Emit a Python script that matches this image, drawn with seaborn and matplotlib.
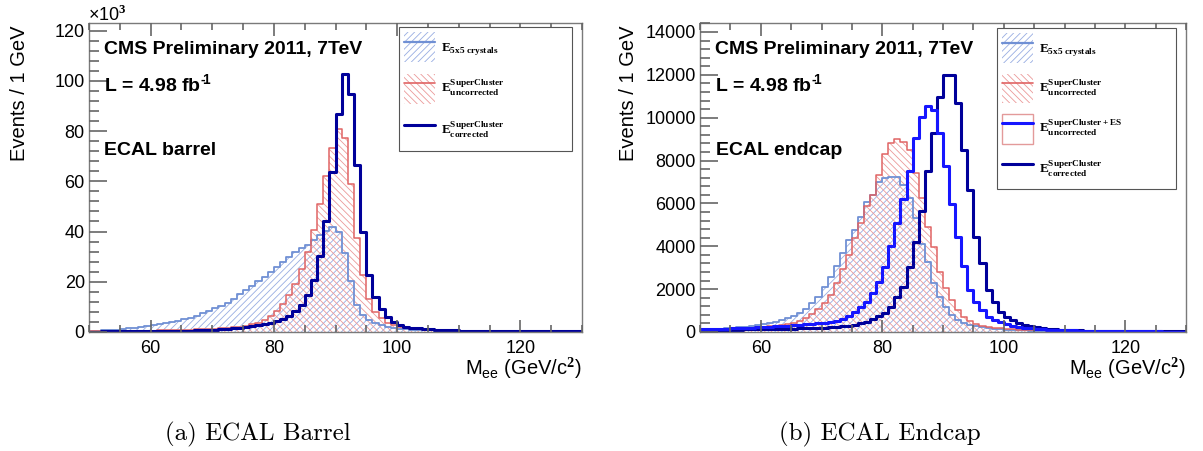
import numpy as np
import pandas as pd
import matplotlib
matplotlib.use("Agg")
import matplotlib.pyplot as plt
import seaborn as sns
from matplotlib.patches import Patch
from matplotlib.lines import Line2D
from matplotlib.ticker import MultipleLocator, ScalarFormatter
from matplotlib.legend_handler import HandlerTuple

# ---------------- data ----------------
bin_edges = list(range(50, 131))          # 1 GeV bins, 50-130 GeV

# ECAL barrel, events / 1 GeV in units of 10^3
barrel_5x5 = [0.4, 0.5, 0.7, 0.8, 0.9, 1.2, 1.5, 1.7, 2.0, 2.4,
              2.7, 3.1, 3.5, 3.9, 4.5, 5.0, 5.7, 6.5, 7.4, 8.4,
              9.4, 10.4, 11.7, 13.3, 15.2, 16.6, 18.3, 20.2, 22.0, 24.0,
              25.8, 27.8, 29.8, 31.8, 33.5, 34.7, 36.5, 38.5, 40.4, 41.7,
              39.7, 31.3, 20.4, 10.8, 6.8, 4.8, 3.5, 2.7, 2.0, 1.6,
              1.3, 1.1, 0.9, 0.8, 0.7, 0.6, 0.5, 0.45, 0.4, 0.35,
              0.32, 0.3, 0.28, 0.26, 0.24, 0.22, 0.2, 0.19, 0.18, 0.17,
              0.16, 0.15, 0.14, 0.13, 0.12, 0.11, 0.1, 0.1, 0.09, 0.09]
barrel_sc_uncorr = [0.2, 0.2, 0.25, 0.3, 0.3, 0.35, 0.4, 0.4, 0.45, 0.5,
                    0.55, 0.6, 0.65, 0.7, 0.75, 0.8, 0.9, 1.0, 1.1, 1.2,
                    1.35, 1.5, 1.7, 1.9, 2.1, 2.4, 3.05, 3.7, 4.8, 6.4,
                    8.4, 11.0, 14.7, 19.3, 25.0, 31.8, 40.5, 50.8, 61.9, 73.4,
                    80.9, 77.2, 59.0, 37.3, 22.5, 13.2, 8.1, 5.4, 3.7, 2.7,
                    2.0, 1.6, 1.3, 1.1, 0.9, 0.8, 0.7, 0.6, 0.5, 0.45,
                    0.4, 0.37, 0.34, 0.31, 0.28, 0.26, 0.24, 0.22, 0.2, 0.19,
                    0.18, 0.17, 0.16, 0.15, 0.14, 0.13, 0.12, 0.11, 0.1, 0.1]
barrel_sc_corr = [0.15, 0.18, 0.2, 0.22, 0.24, 0.26, 0.28, 0.3, 0.32, 0.35,
                  0.38, 0.4, 0.42, 0.45, 0.48, 0.5, 0.55, 0.6, 0.7, 0.8,
                  0.95, 1.1, 1.25, 1.45, 1.7, 2.0, 2.3, 2.6, 3.0, 3.6,
                  4.2, 5.3, 6.5, 8.3, 10.8, 14.7, 20.7, 30.3, 44.1, 63.7,
                  86.6, 102.8, 94.8, 66.4, 39.7, 22.5, 13.8, 9.0, 6.1, 4.1,
                  2.8, 2.1, 1.7, 1.4, 1.2, 1.0, 0.9, 0.8, 0.7, 0.6,
                  0.55, 0.5, 0.47, 0.44, 0.41, 0.38, 0.36, 0.34, 0.32, 0.3,
                  0.28, 0.27, 0.26, 0.25, 0.24, 0.23, 0.22, 0.21, 0.2, 0.2]

# ECAL endcap, events / 1 GeV
endcap_5x5 = [120, 130, 150, 160, 170, 190, 220, 250, 280, 310,
              360, 400, 480, 560, 640, 750, 900, 1060, 1340, 1650,
              2120, 2580, 3080, 3670, 4290, 4760, 5380, 6080, 6390, 7000,
              7200, 7250, 7250, 6860, 6240, 5300, 4100, 3280, 2270, 1650,
              1180, 800, 560, 420, 330, 270, 220, 180, 150, 130,
              110, 95, 85, 75, 68, 60, 55, 50, 46, 42,
              40, 38, 36, 34, 32, 30, 29, 28, 27, 26,
              25, 24, 23, 22, 21, 20, 20, 19, 18, 18]
endcap_sc_uncorr = [100, 110, 120, 130, 140, 150, 160, 180, 200, 220,
                    250, 270, 300, 330, 380, 440, 530, 670, 840, 1060,
                    1340, 1730, 2270, 2920, 3590, 4370, 5070, 5900, 6390, 7330,
                    8300, 8800, 8990, 8850, 8500, 7400, 6240, 4910, 3980, 2810,
                    2040, 1490, 1030, 720, 500, 380, 300, 240, 200, 170,
                    150, 130, 115, 100, 90, 80, 75, 70, 65, 60,
                    56, 52, 48, 45, 42, 40, 38, 36, 34, 32,
                    30, 29, 28, 27, 26, 25, 24, 23, 22, 21]
endcap_sc_es_uncorr = [120, 130, 140, 150, 160, 170, 180, 190, 200, 215,
                       230, 245, 260, 280, 300, 320, 340, 360, 385, 410,
                       420, 460, 520, 590, 750, 950, 1180, 1420, 1800, 2350,
                       3050, 4000, 5070, 6200, 7500, 9070, 10050, 10540, 10360, 9300,
                       7750, 5960, 4450, 3090, 1960, 1420, 1030, 720, 560, 480,
                       380, 300, 250, 200, 170, 150, 130, 115, 100, 90,
                       80, 72, 65, 58, 52, 47, 43, 40, 37, 35,
                       33, 31, 29, 27, 25, 24, 23, 22, 21, 20]
endcap_sc_corr = [80, 90, 95, 100, 105, 110, 115, 120, 125, 130,
                  135, 140, 145, 150, 155, 160, 165, 170, 180, 190,
                  200, 220, 240, 260, 300, 340, 400, 480, 610, 750,
                  900, 1150, 1620, 2080, 3050, 4210, 5660, 7510, 9300, 10980,
                  12000, 12000, 10670, 8490, 6630, 4450, 3200, 1960, 1420, 950,
                  720, 560, 420, 330, 270, 220, 180, 150, 130, 110,
                  95, 85, 75, 68, 62, 56, 50, 46, 43, 40,
                  38, 36, 34, 32, 30, 28, 27, 26, 25, 24]

# ---------------- style ----------------
C_5x5_LINE = '#7090d4'
C_5x5_HATCH = '#98ade2'
C_RED_LINE = '#e06464'
C_RED_HATCH = '#eb9a9a'
C_NAVY = '#00009a'
C_BRIGHT = '#1616ff'
C_FRAME = '#7a7a7a'
C_TICK = '#666666'

sns.set_theme(style="ticks")
plt.rcParams.update({
    'font.family': ['Liberation Sans', 'DejaVu Sans'],
    'mathtext.fontset': 'custom',
    'mathtext.rm': 'Liberation Serif:bold',
    'mathtext.bf': 'Liberation Serif:bold',
    'mathtext.sf': 'Liberation Sans:bold',
    'mathtext.it': 'Liberation Sans',
    'hatch.linewidth': 0.6,
    'text.color': 'black',
    'axes.labelcolor': 'black',
    'axes.edgecolor': C_FRAME,
    'axes.linewidth': 1.0,
    'axes.axisbelow': False,
    'xtick.labelcolor': 'black',
    'ytick.labelcolor': 'black',
    'xtick.color': C_TICK,
    'ytick.color': C_TICK,
    'xtick.direction': 'in',
    'ytick.direction': 'in',
    'xtick.top': True,
    'xtick.bottom': True,
    'ytick.left': True,
    'ytick.right': False,
    'xtick.labelsize': 13,
    'ytick.labelsize': 13,
})

centers = [(a + b) / 2 for a, b in zip(bin_edges[:-1], bin_edges[1:])]


def hatched(ax, values, hatch_color, hatch, line_color, lw):
    df = pd.DataFrame({"m": centers, "w": values})
    sns.histplot(data=df, x="m", weights="w", bins=bin_edges, element="step",
                 fill=True, color=hatch_color, facecolor="none",
                 edgecolor=hatch_color, hatch=hatch, linewidth=0, ax=ax)
    sns.histplot(data=df, x="m", weights="w", bins=bin_edges, element="step",
                 fill=False, color=line_color, linewidth=lw, ax=ax)


def outline(ax, values, color, lw):
    df = pd.DataFrame({"m": centers, "w": values})
    sns.histplot(data=df, x="m", weights="w", bins=bin_edges, element="step",
                 fill=False, color=color, linewidth=lw, ax=ax)


fig = plt.figure(figsize=(12.03, 4.51), dpi=100)
W, H = 1203, 451
ax1 = fig.add_axes([89 / W, 119 / H, 493 / W, 309 / H])
ax2 = fig.add_axes([700 / W, 119 / H, 486 / W, 309 / H])

HATCH_F = '/////'
HATCH_B = '\\\\\\\\\\'

# barrel
hatched(ax1, barrel_5x5, C_5x5_HATCH, HATCH_F, C_5x5_LINE, 1.3)
hatched(ax1, barrel_sc_uncorr, C_RED_HATCH, HATCH_B, C_RED_LINE, 1.1)
outline(ax1, barrel_sc_corr, C_NAVY, 2.2)

# endcap
hatched(ax2, endcap_5x5, C_5x5_HATCH, HATCH_F, C_5x5_LINE, 1.3)
hatched(ax2, endcap_sc_uncorr, C_RED_HATCH, HATCH_B, C_RED_LINE, 1.1)
outline(ax2, endcap_sc_corr, C_NAVY, 2.2)
outline(ax2, endcap_sc_es_uncorr, C_BRIGHT, 2.2)

ax1.set_ylim(0, 123)
ax2.set_ylim(0, 14420)
fmt = ScalarFormatter(useOffset=False)
fmt.set_scientific(False)
ax2.yaxis.set_major_formatter(fmt)

for ax, ymaj, ymin in ((ax1, 20, 4), (ax2, 2000, 400)):
    ax.set_xlim(50, 130)
    ax.xaxis.set_major_locator(MultipleLocator(20))
    ax.xaxis.set_minor_locator(MultipleLocator(5))
    ax.yaxis.set_major_locator(MultipleLocator(ymaj))
    ax.yaxis.set_minor_locator(MultipleLocator(ymin))
    for s in ax.spines.values():
        s.set_visible(True)
        s.set_color(C_FRAME)
        s.set_linewidth(1.0)
    ax.set_axisbelow(False)
    ax.xaxis.set_tick_params(which='major', direction='in', length=9, width=1.2,
                             color=C_TICK, bottom=True, top=True, pad=6)
    ax.xaxis.set_tick_params(which='minor', direction='in', length=5, width=1.2,
                             color=C_TICK, bottom=True, top=True)
    ax.yaxis.set_tick_params(which='major', direction='in', length=13, width=1.2,
                             color=C_TICK, left=True, right=False, pad=3)
    ax.yaxis.set_tick_params(which='minor', direction='in', length=7, width=1.2,
                             color=C_TICK, left=True, right=False)
    ax.set_ylabel('Events / 1 GeV', fontsize=14.5, ha='center')
    ax.set_xlabel(r'M$_{\mathit{ee}}$ (GeV/c$^{\mathit{2}}$)', fontsize=14.5,
                  ha='right', va='top')
    ax.xaxis.set_label_coords(1.0, -0.075)
    ax.text(0.030, 0.899, 'CMS Preliminary 2011, 7TeV', transform=ax.transAxes,
            fontsize=14, fontweight='bold', va='baseline', ha='left')
    ax.text(0.030, 0.779, 'L = 4.98 fb$^{\\mathsf{\u2010}\\!\\mathsf{1}}$',
            transform=ax.transAxes,
            fontsize=14, fontweight='bold', va='baseline', ha='left')
    ax.set_facecolor('white')

ax1.yaxis.set_label_coords(-0.122, 0.772)
ax2.yaxis.set_label_coords(-0.128, 0.772)
ax1.text(0.030, 0.573, 'ECAL barrel', transform=ax1.transAxes,
         fontsize=14, fontweight='bold', va='baseline', ha='left')
ax2.text(0.033, 0.573, 'ECAL endcap', transform=ax2.transAxes,
         fontsize=14, fontweight='bold', va='baseline', ha='left')

fig.text(88 / W, 1 - 15 / H, r'×10$^{\mathit{3}}$', fontsize=13,
         va='center', ha='left')

# legends (patch and line overlaid in one handle box)
h_5x5 = (Patch(facecolor='none', edgecolor=C_5x5_HATCH, hatch=HATCH_F, linewidth=0),
         Line2D([], [], color=C_5x5_LINE, linewidth=1.6))
h_red = (Patch(facecolor='none', edgecolor=C_RED_HATCH, hatch=HATCH_B, linewidth=0),
         Line2D([], [], color=C_RED_LINE, linewidth=1.2))
h_es = (Patch(facecolor='white', edgecolor='#e39a9a', linewidth=1.0),
        Line2D([], [], color=C_BRIGHT, linewidth=2.2))
h_corr = Line2D([], [], color=C_NAVY, linewidth=2.2)

lab_5x5 = r'$\mathbf{E}_{\mathbf{5x5\ crystals}}$'
lab_unc = r'$\mathbf{E}^{\mathbf{SuperCluster}}_{\mathbf{uncorrected}}$'
lab_es = r'$\mathbf{E}^{\mathbf{SuperCluster+ES}}_{\mathbf{uncorrected}}$'
lab_corr = r'$\mathbf{E}^{\mathbf{SuperCluster}}_{\mathbf{corrected}}$'

leg_kw = dict(loc='upper left', mode='expand', borderaxespad=0, fontsize=9.5,
              handlelength=2.35, handleheight=3.1, handletextpad=0.45,
              borderpad=0.4, frameon=True, fancybox=False, framealpha=1,
              edgecolor='#555555',
              handler_map={tuple: HandlerTuple(ndivide=1, pad=0)})
leg1 = ax1.legend([h_5x5, h_red, h_corr], [lab_5x5, lab_unc, lab_corr],
                  bbox_to_anchor=(0.629, 0.586, 0.351, 0.401),
                  labelspacing=0.9, **leg_kw)
leg2 = ax2.legend([h_5x5, h_red, h_es, h_corr], [lab_5x5, lab_unc, lab_es, lab_corr],
                  bbox_to_anchor=(0.611, 0.469, 0.368, 0.515),
                  labelspacing=0.8, **leg_kw)
for lg in (leg1, leg2):
    lg.get_frame().set_linewidth(0.8)

# captions
fig.text(258 / W, 1 - 434 / H, '(a) ECAL Barrel', fontsize=18,
         fontfamily='cmr10', ha='center', va='center')
fig.text(880 / W, 1 - 434 / H, '(b) ECAL Endcap', fontsize=18,
         fontfamily='cmr10', ha='center', va='center')

fig.savefig('out.png', dpi=100, facecolor='white')
